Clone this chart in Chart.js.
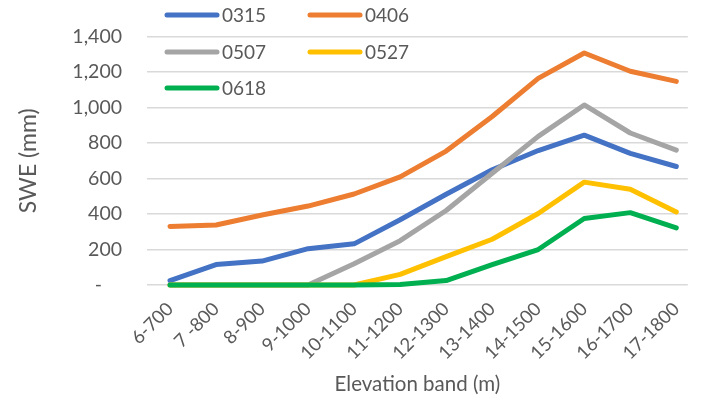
<!DOCTYPE html>
<html><head><meta charset="utf-8">
<script src="https://cdn.jsdelivr.net/npm/chart.js@4"></script>
<style>html,body{margin:0;padding:0;background:#fff}</style>
</head><body>
<canvas id="c" width="705" height="407"></canvas>
<script>
const categories = ['6-700','7 -800','8-900','9-1000','10-1100','11-1200','12-1300','13-1400','14-1500','15-1600','16-1700','17-1800'];
const seriesNames = ['0315','0406','0507','0527','0618'];
const s0315 = [25, 115, 135, 205, 232, 368, 512, 650, 758, 845, 742, 668];
const s0406 = [330, 338, 395, 445, 513, 610, 755, 950, 1165, 1308, 1205, 1148];
const s0507 = [0, 0, 0, 0, 120, 250, 420, 630, 838, 1015, 857, 760];
const s0527 = [0, 0, 0, 0, 0, 60, 160, 258, 403, 580, 540, 412];
const s0618 = [0, 0, 0, 0, 0, 3, 25, 115, 200, 375, 408, 322];
const yTicks = [0, 200, 400, 600, 800, 1000, 1200, 1400];

const colors = ['#4472C4','#ED7D31','#A5A5A5','#FFC000','#00B050'];
const allSeries = [s0315, s0406, s0507, s0527, s0618];
const FONT = 'Lato';
const TXT = '#595959';

const datasets = allSeries.map((s, i) => ({
  label: seriesNames[i],
  data: s.map((v, j) => ({x: j, y: v})),
  borderColor: colors[i],
  backgroundColor: colors[i],
  borderWidth: 5,
  pointRadius: 0,
  tension: 0,
  borderCapStyle: 'round',
  borderJoinStyle: 'round',
  order: 10 - i,
  clip: 8
}));

const legendPlugin = {
  id: 'customLegend',
  afterDraw(chart) {
    const ctx = chart.ctx;
    const cols = [167, 310];
    const rows = [15, 52, 88];
    ctx.save();
    ctx.font = '19px ' + FONT;
    ctx.textBaseline = 'middle';
    ctx.textAlign = 'left';
    chart.data.datasets.forEach((ds, i) => {
      const x = cols[i % 2], y = rows[Math.floor(i / 2)];
      ctx.strokeStyle = ds.borderColor;
      ctx.lineWidth = 5;
      ctx.lineCap = 'round';
      ctx.beginPath();
      ctx.moveTo(x, y);
      ctx.lineTo(x + 50, y);
      ctx.stroke();
      ctx.fillStyle = TXT;
      ctx.fillText(ds.label, x + 55, y + 1);
    });
    ctx.restore();
  }
};

new Chart(document.getElementById('c'), {
  type: 'line',
  data: { datasets },
  options: {
    responsive: false,
    animation: false,
    layout: { padding: { top: 35, right: 0, left: 0, bottom: 0 } },
    plugins: { legend: { display: false }, tooltip: { enabled: false } },
    scales: {
      x: {
        type: 'linear',
        min: -0.5,
        max: 11.25,
        bounds: 'data',
        afterBuildTicks(scale) { scale.ticks = categories.map((c, i) => ({ value: i })); },
        afterFit(scale) { scale.height = 122; },
        grid: { display: false, drawTicks: false },
        border: { display: false },
        ticks: {
          autoSkip: false,
          minRotation: 45,
          maxRotation: 45,
          padding: 13,
          color: TXT,
          font: { family: FONT, size: 18.5 },
          callback: (v) => categories[v]
        },
        title: {
          display: true,
          text: 'Elevation band (m)',
          color: TXT,
          font: { family: FONT, size: 20.5 },
          padding: { top: 0, bottom: 10 }
        }
      },
      y: {
        min: 0,
        max: 1400,
        afterBuildTicks(scale) { scale.ticks = yTicks.map(v => ({ value: v })); },
        afterFit(scale) { scale.width = 147; },
        grid: { color: '#D9D9D9', lineWidth: 1.5, drawTicks: false },
        border: { display: false },
        ticks: {
          padding: 25,
          color: TXT,
          font: { family: FONT, size: 19.5 },
          callback: (v) => v === 0 ? '-    ' : v.toLocaleString('en-US')
        },
        title: {
          display: true,
          text: 'SWE (mm)',
          color: TXT,
          font: { family: FONT, size: 23 },
          padding: { top: 15, bottom: 0 }
        }
      }
    }
  },
  plugins: [legendPlugin]
});
</script>
</body></html>
